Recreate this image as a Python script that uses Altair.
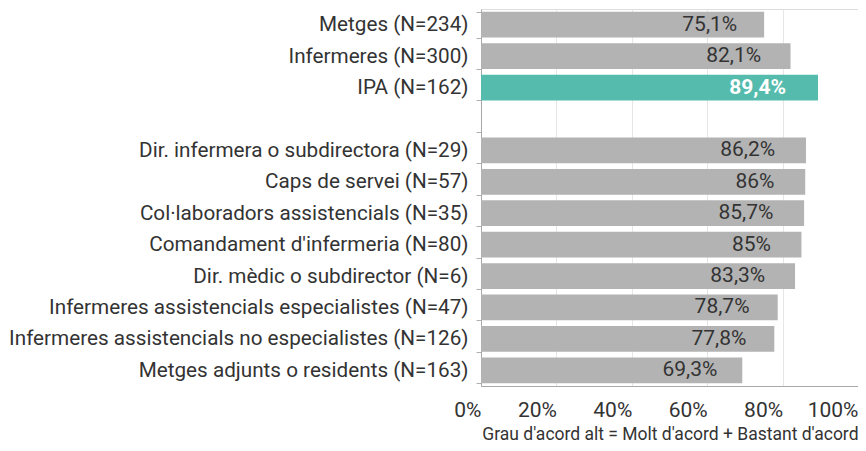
import altair as alt
import pandas as pd

categories = [
    "Metges (N=234)",
    "Infermeres (N=300)",
    "IPA (N=162)",
    "Dir. infermera o subdirectora (N=29)",
    "Caps de servei (N=57)",
    "Col·laboradors assistencials (N=35)",
    "Comandament d'infermeria (N=80)",
    "Dir. mèdic o subdirector (N=6)",
    "Infermeres assistencials especialistes (N=47)",
    "Infermeres assistencials no especialistes (N=126)",
    "Metges adjunts o residents (N=163)",
]
values = [75.1, 82.1, 89.4, 86.2, 86.0, 85.7, 85.0, 83.3, 78.7, 77.8, 69.3]
labels = ["75,1%", "82,1%", "89,4%", "86,2%", "86%", "85,7%", "85%", "83,3%", "78,7%", "77,8%", "69,3%"]
highlight = [False, False, True, False, False, False, False, False, False, False, False]

blank = " "
domain_order = categories[:3] + [blank] + categories[3:]

df = pd.DataFrame({"cat": categories, "value": values, "label": labels, "hl": highlight})

FONT = "Roboto"
TXT = "#333333"
FS = 21

y_scale = alt.Scale(domain=domain_order, paddingInner=0.18, paddingOuter=0.09)

y_enc = alt.Y(
    "cat:N",
    sort=domain_order,
    scale=y_scale,
    axis=alt.Axis(
        title=None,
        labelFont=FONT,
        labelFontSize=20.7,
        labelColor=TXT,
        labelPadding=8,
        tickSize=5,
        tickColor="#b0b0b0",
        domainColor="#a8a8a8",
        tickBand="extent",
        grid=False,
        labelLimit=500,
    ),
)

x_enc = alt.X(
    "value:Q",
    scale=alt.Scale(domain=[0, 100], nice=False),
    axis=alt.Axis(
        values=[0, 20, 40, 60, 80, 100],
        labelExpr="datum.value + '%'",
        labelAlign="right",
        labelFont=FONT,
        labelFontSize=FS,
        labelColor=TXT,
        labelPadding=13,
        ticks=False,
        domainColor="#a8a8a8",
        gridColor="#e6e6e6",
        grid=True,
        title="Grau d'acord alt = Molt d'acord + Bastant d'acord",
        titleFont=FONT,
        titleFontSize=17.5,
        titleFontWeight="normal",
        titleColor=TXT,
        titleAnchor="end",
        titlePadding=5,
    ),
)

bars = alt.Chart(df).mark_bar().encode(
    y=y_enc,
    x=x_enc,
    color=alt.condition("datum.hl", alt.value("#55bbad"), alt.value("#b3b3b3")),
)

text_plain = alt.Chart(df).transform_filter("!datum.hl").transform_calculate(
    pos="datum.value * 0.905"
).mark_text(align="right", baseline="middle", font=FONT, fontSize=FS, color=TXT).encode(
    y=alt.Y("cat:N", sort=domain_order, scale=y_scale),
    x=alt.X("pos:Q"),
    text="label:N",
)

text_hl = alt.Chart(df).transform_filter("datum.hl").transform_calculate(
    pos="datum.value * 0.905"
).mark_text(align="right", baseline="middle", font=FONT, fontSize=FS, fontWeight="bold", color="white").encode(
    y=alt.Y("cat:N", sort=domain_order, scale=y_scale),
    x=alt.X("pos:Q"),
    text="label:N",
)

chart = alt.layer(bars, text_plain, text_hl).properties(
    width=377,
    height=377,
    padding={"left": 473, "top": 1, "right": 0, "bottom": 57},
    autosize=alt.AutoSizeParams(type="none"),
).configure_view(stroke=None).configure(background="white")

chart.save("out.html", embed_options={"renderer": "svg", "actions": False})
